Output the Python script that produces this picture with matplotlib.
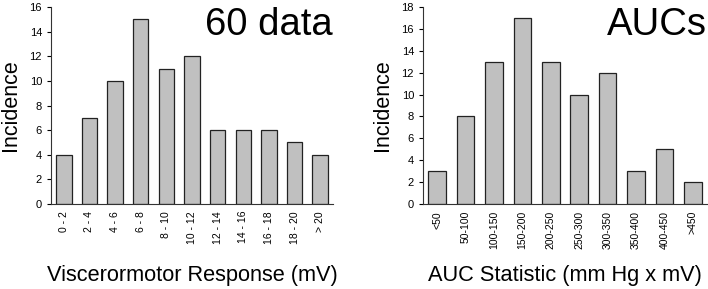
import matplotlib.pyplot as plt

plt.rcParams['font.family'] = ['Liberation Sans', 'DejaVu Sans']

# left panel: viscerormotor response histogram
vmr_bins = ["0 - 2", "2 - 4", "4 - 6", "6 - 8", "8 - 10", "10 - 12",
            "12 - 14", "14 - 16", "16 - 18", "18 - 20", "> 20"]
vmr_counts = [4, 7, 10, 15, 11, 12, 6, 6, 6, 5, 4]

# right panel: AUC histogram
auc_bins = ["<50", "50-100", "100-150", "150-200", "200-250", "250-300",
            "300-350", "350-400", "400-450", ">450"]
auc_counts = [3, 8, 13, 17, 13, 10, 12, 3, 5, 2]

fig = plt.figure(figsize=(7.08, 2.89), dpi=100)
W, H = 708, 289

ax1 = fig.add_axes([51 / W, 1 - 204 / H, (333 - 51) / W, (204 - 7) / H])
ax2 = fig.add_axes([423 / W, 1 - 204 / H, (707 - 423) / W, (204 - 7) / H])


def draw(ax, labels, counts, ymax, title, xlabel, width):
    x = range(len(counts))
    ax.bar(x, counts, width=width, color='#c0c0c0', edgecolor='#222222',
           linewidth=0.9)
    ax.set_xlim(-0.5, len(counts) - 0.5)
    ax.set_ylim(0, ymax)
    ax.set_yticks(range(0, ymax + 1, 2))
    ax.set_xticks(list(x))
    ax.set_xticklabels(labels, rotation=90, fontsize=7.5)
    ax.tick_params(axis='y', labelsize=8, length=3, width=0.8, direction='out')
    ax.tick_params(axis='x', length=0, pad=5)
    for s in ('top', 'right'):
        ax.spines[s].set_visible(False)
    for s in ('left', 'bottom'):
        ax.spines[s].set_linewidth(0.8)
        ax.spines[s].set_color('#333333')
    ax.set_ylabel('Incidence', fontsize=15.5, labelpad=6)
    ax.set_xlabel(xlabel, fontsize=15.7)
    # put the x label at a fixed height below the axes (figure pixel ~275)
    ax.xaxis.set_label_coords(0.5, (204 - 286) / (204 - 7), transform=ax.transAxes)
    ax.xaxis.label.set_va('bottom')
    ax.text(1.0, 1.0, title, transform=ax.transAxes, ha='right', va='top',
            fontsize=27.5)


draw(ax1, vmr_bins, vmr_counts, 16, '60 data',
     'Viscerormotor Response (mV)', 0.6)
draw(ax2, auc_bins, auc_counts, 18, 'AUCs',
     'AUC Statistic (mm Hg x mV)', 0.62)

fig.savefig('out.png', dpi=100)
